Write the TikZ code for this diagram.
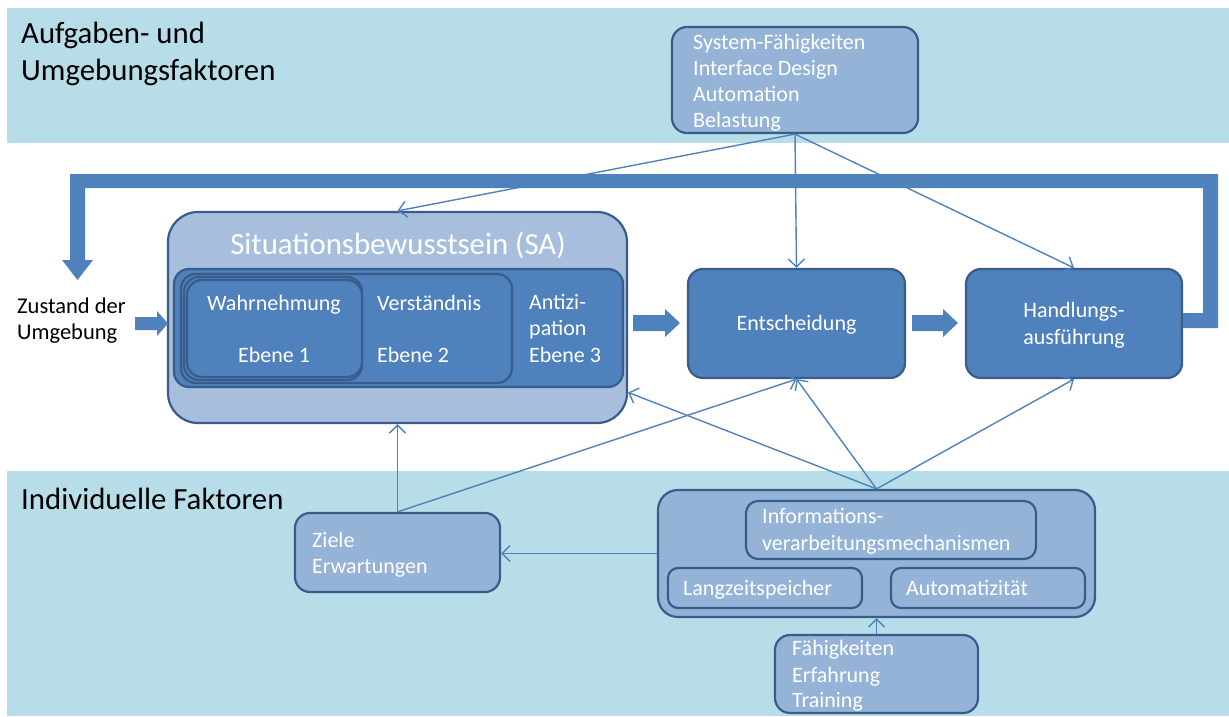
\documentclass[tikz,border=0pt]{standalone}
\usepackage{fontspec}
\setmainfont{Carlito}
\usetikzlibrary{arrows.meta}
\definecolor{band}{HTML}{B7DDE8}
\definecolor{darkfill}{HTML}{4F81BD}
\definecolor{boxline}{HTML}{385D8A}
\definecolor{lightfill}{HTML}{95B3D7}
\definecolor{safill}{HTML}{A7BFDD}
\tikzset{
  darkbox/.style={draw=boxline, fill=darkfill, line width=2.2pt, rounded corners=15pt, inner sep=0pt},
  lightbox/.style={draw=boxline, fill=lightfill, line width=2.2pt, rounded corners=15pt, inner sep=0pt},
  wtxt/.style={text=white, font=\fontsize{22}{26}\selectfont, inner sep=0pt, anchor=base west},
  ctxt/.style={wtxt, anchor=base},
  btxt/.style={text=black, font=\fontsize{22.5}{26}\selectfont, inner sep=0pt, anchor=base west},
  head/.style={text=black, font=\fontsize{30.8}{37}\selectfont, inner sep=0pt, anchor=base west},
  conn/.style={draw=darkfill, line width=1.4pt, -{Straight Barb[length=8pt,width=16pt]}},
  blockarrow/.style={fill=darkfill, draw=none},
}
% box from corner (x1,y1) to (x2,y2)
\newcommand\boxnode[6]{\node[#1, minimum width={(#5-#3)*1pt}, minimum height={(#6-#4)*1pt}] (#2) at ({(#3+#5)/2},{(#4+#6)/2}) {};}
% horizontal block arrow: tail x, tip x, centre y, half shaft, half head, head length
\newcommand\blockarr[6]{\fill[blockarrow] (#1,#3-#4) -- (#2-#6,#3-#4) -- (#2-#6,#3-#5) -- (#2,#3) -- (#2-#6,#3+#5) -- (#2-#6,#3+#4) -- (#1,#3+#4) -- cycle;}
\begin{document}
\begin{tikzpicture}[x=1pt,y=-1pt]
\useasboundingbox (0,0) rectangle (1229,716);
% background bands
\fill[band] (7,8) rectangle (1229,143);
\fill[band] (7,471) rectangle (1229,716);
\node[head] (hdtop) at (21,43) {Aufgaben- und};
\node[head] (hdtop2) at (21,80) {Umgebungsfaktoren};
\node[head] (hdbot) at (21,509) {Individuelle Faktoren};

% task and environment factors
\boxnode{lightbox}{sys}{672}{27}{918}{133}
\node[wtxt] (s1) at (693,49) {System-Fähigkeiten};
\node[wtxt] (s2) at (693,75) {Interface Design};
\node[wtxt] (s3) at (693,101) {Automation};
\node[wtxt] (s4) at (693,127) {Belastung};

% situation awareness
\boxnode{lightbox, fill=safill, rounded corners=30pt}{sa}{168}{212}{627}{423}
\node[ctxt, font=\fontsize{30.8}{34}\selectfont] (satitle) at (398,254) {Situationsbewusstsein (SA)};
\boxnode{darkbox}{lv3}{174}{269}{623}{387}
\boxnode{darkbox}{lv2}{181}{274}{512}{383}
\boxnode{darkbox}{lv1a}{184}{277}{362}{380}
\boxnode{darkbox}{lv1}{187}{280}{362}{377}
\node[ctxt] (w1) at (274,310) {Wahrnehmung};
\node[ctxt] (w2) at (274,362) {Ebene 1};
\node[wtxt] (v1) at (377,310) {Verständnis};
\node[wtxt] (v2) at (377,362) {Ebene 2};
\node[wtxt] (a1) at (529,309) {Antizi-};
\node[wtxt] (a2) at (529,335) {pation};
\node[wtxt] (a3) at (529,362) {Ebene 3};

% decision and action
\boxnode{darkbox}{ent}{688}{269}{905}{378}
\node[ctxt] (entt) at (796.5,330) {Entscheidung};
\boxnode{darkbox}{hand}{966}{269}{1182}{378}
\node[ctxt] (hand1) at (1074,317) {Handlungs-};
\node[ctxt] (hand2) at (1074,344) {ausführung};

% state of the environment
\node[btxt] (z1) at (17,313) {Zustand der};
\node[btxt] (z2) at (17,339) {Umgebung};

% individual factors
\boxnode{lightbox}{ziele}{295}{513}{500}{592}
\node[wtxt] (zt1) at (312,547) {Ziele};
\node[wtxt] (zt2) at (312,573) {Erwartungen};
\boxnode{lightbox, rounded corners=20pt}{big}{658}{490}{1095}{617}
\boxnode{lightbox, rounded corners=12pt}{info}{746}{501}{1036}{559}
\node[wtxt] (i1) at (762,523) {Informations-};
\node[wtxt] (i2) at (762,550) {verarbeitungsmechanismen};
\boxnode{lightbox, rounded corners=10pt}{lang}{668}{568}{862}{608}
\node[wtxt] (lt) at (683,595) {Langzeitspeicher};
\boxnode{lightbox, rounded corners=10pt}{auto}{891}{568}{1085}{608}
\node[wtxt] (at) at (906,595) {Automatizität};
\boxnode{lightbox}{fah}{775}{635}{978}{713}
\node[wtxt] (f1) at (792,655) {Fähigkeiten};
\node[wtxt] (f2) at (792,682) {Erfahrung};
\node[wtxt] (f3) at (792,707) {Training};

% block arrows along the main chain
\blockarr{135}{168}{323.5}{6.5}{12.5}{11}
\blockarr{633}{680}{323}{8}{14}{15}
\blockarr{912}{958}{323}{8}{14}{15}

% feedback from action to the environment
\fill[blockarrow] (hand.east |- 0,313) -- (1203,313) -- (1203,188) -- (85,188) -- (85,260)
  -- (93,260) -- (77.5,280) -- (62,260) -- (70,260) -- (70,174) -- (1218,174) -- (1218,328)
  -- (hand.east |- 0,328) -- cycle;

% influence connectors
\draw[conn] (sys.south) -- (sa.north);
\draw[conn] (sys.south) -- (ent.north);
\draw[conn] (sys.south) -- (hand.north);
\draw[conn] (ziele.north) -- (sa.south);
\draw[conn] (ziele.north) -- (ent.south);
\draw[conn] (big.north) -- (sa.-18);
\draw[conn] (big.north) -- (ent.south);
\draw[conn] (big.north) -- (hand.south);
\draw[conn] (big.west) -- (ziele.east |- big.west);
\draw[conn] (fah.north) -- (big.south);
\end{tikzpicture}
\end{document}
